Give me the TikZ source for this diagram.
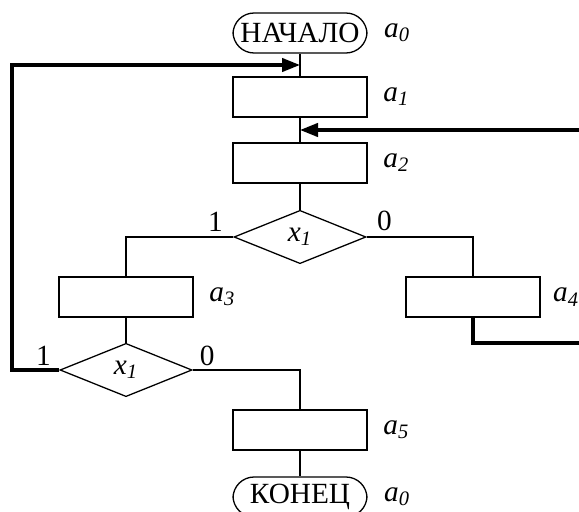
\documentclass[tikz,border=0pt]{standalone}
\usepackage{fontspec}
\setmainfont{Liberation Serif}
\usepackage{tikz}
\usetikzlibrary{positioning,shapes}
\usetikzlibrary{arrows.meta}
\tikzset{>={Triangle[length=2.7mm,width=2.0mm]}}
\newcommand{\sublab}[2]{\textit{#1}\textsubscript{\textit{#2}}}

\begin{document}
\begin{tikzpicture}[x=0.015cm, y=-0.015cm, font=\fontsize{12.5}{14}\selectfont]
      %%%%%%%%%%%%%%%%%%%%%%%%%%%%%%%%%%%%%%%%%%%%%%%%%%
      %% flow chart with two loops
      %%%%%%%%%%%%%%%%%%%%%%%%%%%%%%%%%%%%%%%%%%%%%%%%%%
      \tikzstyle{tnode} = [draw, rectangle, rounded corners = 9pt, minimum width = 2.01cm, minimum height = 0.6cm, inner sep = 0pt, line width = 0.55pt]
      \tikzstyle{bnode} = [draw, rectangle, minimum width = 2.01cm, minimum height = 0.6cm, inner sep = 0pt, line width = 0.55pt]
      \tikzstyle{dnode} = [draw, diamond, minimum width = 1.98cm, minimum height = 0.8cm, inner sep = 0pt, line width = 0.55pt]
      \tikzstyle{lnode} = [inner sep = 0pt]
      \tikzstyle{fline} = [line width = 0.55pt]
      \tikzstyle{bline} = [line width = 1.4pt, ->]
      \clip (0,0) rectangle (579,512);
      \node[tnode] (t0) at (300,33) {НАЧАЛО};
      \node[bnode] (b1) at (300,97) {};
      \node[bnode] (b2) at (300,163) {};
      \node[dnode] (d1) at (300,237) {\sublab{x}{1}};
      \node[bnode] (b3) at (126,297) {};
      \node[bnode] (b4) at (473,297) {};
      \node[dnode] (d2) at (126,370) {\sublab{x}{1}};
      \node[bnode] (b5) at (300,430) {};
      \node[tnode] (t1) at (300,497) {КОНЕЦ};
      % state marks
      \node[lnode, right=0.24cm of t0] (l0) {\sublab{a}{0}};
      \node[lnode, right=0.23cm of b1] (l1) {\sublab{a}{1}};
      \node[lnode, right=0.23cm of b2] (l2) {\sublab{a}{2}};
      \node[lnode, right=0.23cm of b3] (l3) {\sublab{a}{3}};
      \node[lnode, right=0.18cm of b4] (l4) {\sublab{a}{4}};
      \node[lnode, right=0.23cm of b5] (l5) {\sublab{a}{5}};
      \node[lnode, right=0.24cm of t1] (l6) {\sublab{a}{0}};
      % branch values
      \node[lnode, above left=0.07cm and 0.15cm of d1.west] (o1) {1};
      \node[lnode, above right=0.09cm and 0.15cm of d1.east] (z1) {0};
      \node[lnode, above left=0.06cm and 0.12cm of d2.west] (o2) {1};
      \node[lnode, above right=0.06cm and 0.1cm of d2.east] (z2) {0};
      % joints and return rails
      \coordinate (j1) at (300,65);
      \coordinate (j2) at (300,130);
      \coordinate (lrail) at (12,65);
      \coordinate (rrail) at (600,343);
      \draw[fline] (t0) -- (b1);
      \draw[fline] (b1) -- (b2);
      \draw[fline] (b2) -- (d1);
      \draw[fline] (d1.west) -| (b3.north);
      \draw[fline] (d1.east) -| (b4.north);
      \draw[fline] (b3) -- (d2);
      \draw[fline] (d2.east) -| (b5.north);
      \draw[fline] (b5) -- (t1);
      \draw[bline] (d2.west) -| (lrail) -- (j1);
      \draw[bline] (b4.south) |- (rrail) |- (j2);
\end{tikzpicture}
\end{document}
